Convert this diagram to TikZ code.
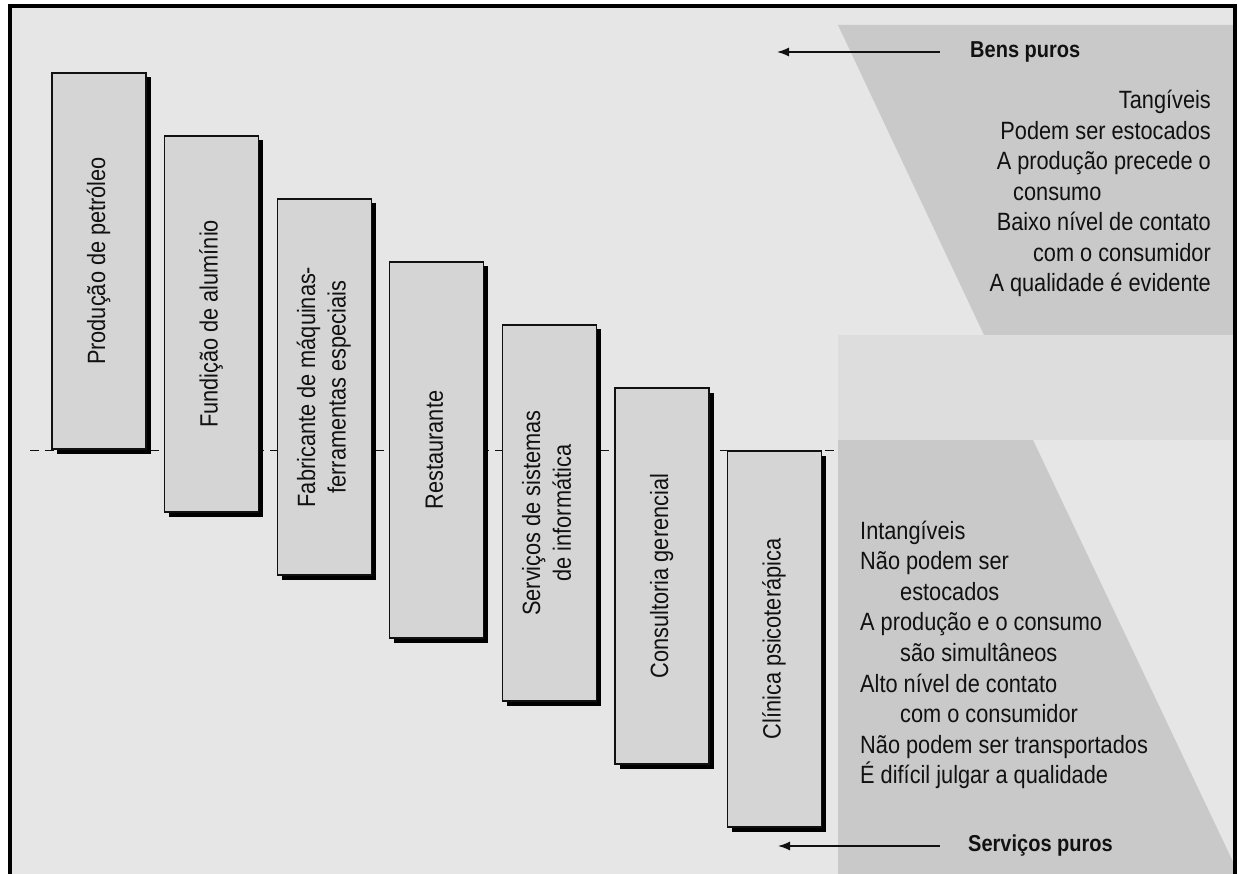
\documentclass[tikz,border=0pt]{standalone}
\usepackage{fontspec}
\setmainfont{Liberation Sans}[FakeStretch=0.87]
\usetikzlibrary{arrows.meta,shadows}
\definecolor{paper}{HTML}{E6E6E6}
\definecolor{boxgray}{HTML}{D5D5D5}
\definecolor{wedge}{HTML}{C9C9C9}
\definecolor{ink}{HTML}{111111}

\begin{document}
\begin{tikzpicture}[x=1pt, y=-1pt,
    every node/.style={text=ink, font=\fontsize{25}{30.6}\selectfont, inner sep=0pt},
    opbox/.style={draw=ink, line width=1.2pt, fill=boxgray, minimum width=94pt, minimum height=376pt,
        drop shadow={shadow xshift=4.5pt, shadow yshift=-4.5pt, fill=black, opacity=1}},
    endlabel/.style={anchor=west, font=\fontsize{23}{28}\selectfont\bfseries},
    purearrow/.style={draw=ink, line width=1.4pt, -{Latex[length=12pt,width=9pt]}}]

            \useasboundingbox (0,0) rectangle (1239,874);
            \fill[white] (0,0) rectangle (1239,874);
            \fill[paper] (10,6) rectangle (1235,874);
            \fill[wedge] (838,25) -- (1235,25) -- (1235,335) -- (984,335) -- cycle;
            \fill[paper!70!wedge] (838,335) rectangle (1235,440);
            \fill[wedge] (838,440) -- (1033,440) -- (1235,866) -- (1235,874) -- (838,874) -- cycle;
            \draw[black, line width=4pt] (10,874) -- (10,6) -- (1235,6) -- (1235,874);

            \coordinate (dashL) at (30,450);
            \coordinate (dashR) at (836,450);
            \draw[ink, line width=1pt, dash pattern=on 9pt off 6pt] (dashL) -- (dashR);

            \foreach \i/\lbl in {1/{Produção de petróleo}, 2/{Fundição de alumínio},
                    3/{Fabricante de máquinas-\\ferramentas especiais}, 4/{Restaurante},
                    5/{Serviços de sistemas\\de informática}, 6/{Consultoria gerencial},
                    7/{Clínica psicoterápica}} {
                \pgfmathsetmacro{\x}{99 + 112.6*(\i - 1)}
                \pgfmathsetmacro{\y}{261 + 63*(\i - 1)}
                \node[opbox] (op\i) at (\x, \y) {\rotatebox{90}{\begin{tabular}{@{}c@{}}\lbl\end{tabular}}};
            }

            \foreach \k/\t in {1/Tangíveis, 2/Podem ser estocados, 3/A produção precede o,
                    5/Baixo nível de contato, 6/com o consumidor, 7/A qualidade é evidente} {
                \pgfmathsetmacro{\y}{109 + 30.5*(\k - 1)}
                \node[anchor=base east] (g\k) at (1211, \y) {\t};
            }
            \node[anchor=base west] (g4) at (1013, 200.5) {consumo};

            \foreach \k/\dx/\t in {1/0/Intangíveis, 2/0/Não podem ser, 3/40/estocados,
                    4/0/A produção e o consumo, 5/40/são simultâneos, 6/0/Alto nível de contato,
                    7/40/com o consumidor, 8/0/Não podem ser transportados, 9/0/É difícil julgar a qualidade} {
                \pgfmathsetmacro{\y}{539 + 30.6*(\k - 1)}
                \node[anchor=base west] (s\k) at (860 + \dx, \y) {\t};
            }

            \node[endlabel] (bens) at (970,52) {Bens puros};
            \node[endlabel] (servicos) at (968,846) {Serviços puros};
            \coordinate (bensTip) at (777,52);
            \coordinate (servTip) at (778,846);
            \draw[purearrow] ([xshift=-30pt]bens.west) -- (bensTip);
            \draw[purearrow] ([xshift=-28pt]servicos.west) -- (servTip);

        \end{tikzpicture}
\end{document}
